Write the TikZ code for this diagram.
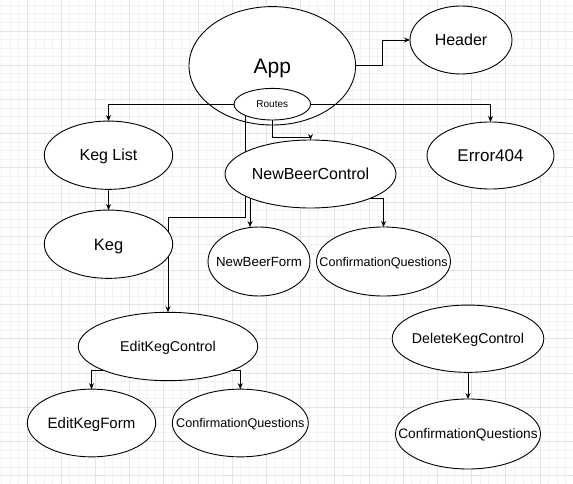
\documentclass[tikz,border=0pt]{standalone}
\usepackage{fontspec}
\setmainfont{Liberation Sans}
\usetikzlibrary{shapes.geometric,arrows.meta}
\pgfdeclarelayer{background}
\pgfdeclarelayer{edges}
\pgfsetlayers{background,edges,main}
\definecolor{gridmajor}{HTML}{E4E4E4}
\definecolor{gridminor}{HTML}{F3F3F3}
\newcommand{\ctext}[1]{\makebox[0pt]{\raisebox{0pt}[0.716em][0pt]{#1}}}
\newcommand{\fsize}[1]{\fontsize{#1}{#1}\selectfont}

\begin{document}
\begin{tikzpicture}[x=1pt,y=-1pt,
    ell/.style={draw,ellipse,fill=white,line width=0.9pt,inner sep=0pt,outer sep=0pt},
    arr/.style={-{Stealth[length=6pt,width=5pt]},line width=0.9pt}]

  \useasboundingbox (0,0) rectangle (573,484);

  % grid paper
  \begin{pgfonlayer}{background}
    \fill[white] (0,0) rectangle (573,484);
    \begin{scope}
      \clip (0,0) rectangle (573,484);
      \foreach \i in {-4,...,68}
        \draw[gridminor,line width=0.8pt] (27+8.55*\i,0) -- (27+8.55*\i,484);
      \foreach \j in {-4,...,54}
        \draw[gridminor,line width=0.8pt] (0,31+8.55*\j) -- (573,31+8.55*\j);
      \foreach \i in {-1,...,17}
        \draw[gridmajor,line width=0.8pt] (27+34.2*\i,0) -- (27+34.2*\i,484);
      \foreach \j in {-1,...,14}
        \draw[gridmajor,line width=0.8pt] (0,31+34.2*\j) -- (573,31+34.2*\j);
    \end{scope}

    \node[ell,minimum width=166.6,minimum height=118.4,font=\fsize{21}] (app) at (272.3,65.8) {\ctext{App}};
  \end{pgfonlayer}

  \node[ell,minimum width=76.6,minimum height=31.6,font=\fsize{10}]    (routes)   at (272.3,104.2) {\ctext{Routes}};
  \node[ell,minimum width=102,minimum height=68,font=\fsize{16}]       (header)   at (461,40)      {\ctext{Header}};
  \node[ell,minimum width=128.4,minimum height=68.3,font=\fsize{16}]   (keglist)  at (108.5,155.2) {\ctext{Keg List}};
  \node[ell,minimum width=171,minimum height=68,font=\fsize{16}]       (nbc)      at (310.5,174)   {\ctext{NewBeerControl}};
  \node[ell,minimum width=127,minimum height=67,font=\fsize{17}]       (error)    at (490.5,155.5) {\ctext{Error404}};
  \node[ell,minimum width=128.4,minimum height=68.3,font=\fsize{16.5}] (keg)      at (108.5,244.2) {\ctext{Keg}};
  \node[ell,minimum width=102,minimum height=69,font=\fsize{13.3}]     (nbf)      at (259,261.5)   {\ctext{NewBeerForm}};
  \node[ell,minimum width=134,minimum height=69,font=\fsize{12.6}]     (cq1)      at (383.5,261.5) {\ctext{ConfirmationQuestions}};
  \node[ell,minimum width=179.4,minimum height=68.4,font=\fsize{14.2}] (ekc)      at (168,346.5)   {\ctext{EditKegControl}};
  \node[ell,minimum width=128.4,minimum height=67.7,font=\fsize{15}]   (ekf)      at (91.5,423)    {\ctext{EditKegForm}};
  \node[ell,minimum width=136,minimum height=67.7,font=\fsize{12.6}]   (cq2)      at (240.3,423)   {\ctext{ConfirmationQuestions}};
  \node[ell,minimum width=151.6,minimum height=67.3,font=\fsize{14.2}] (dkc)      at (468,338.7)   {\ctext{DeleteKegControl}};
  \node[ell,minimum width=145,minimum height=70,font=\fsize{13.7}]     (cq3)      at (468,434)     {\ctext{ConfirmationQuestions}};

  % connectors
  \begin{pgfonlayer}{edges}
    \draw[arr] (app.east) -- ++(27,0) |- (header.west);
    \draw[arr] (routes.west) -| (keglist.north);
    \draw[arr] (routes.east) -| (error.north);
    \draw[arr] (routes.south) -- ++(0,17) -| (nbc.north);
    \draw[arr] (routes.south west) -- ++(0,102) -| (ekc.north);
    \draw[arr] (keglist.south) -- (keg.north);
    \draw[arr] (nbc.south west) -- (nbc.south west |- nbf.north);
    \draw[arr] (nbc.south east) -| (cq1.north);
    \draw[arr] (ekc.south west) -| (ekf.north);
    \draw[arr] (ekc.south east) -| (cq2.north);
    \draw[arr] (dkc.south) -- (cq3.north);
  \end{pgfonlayer}

\end{tikzpicture}
\end{document}
